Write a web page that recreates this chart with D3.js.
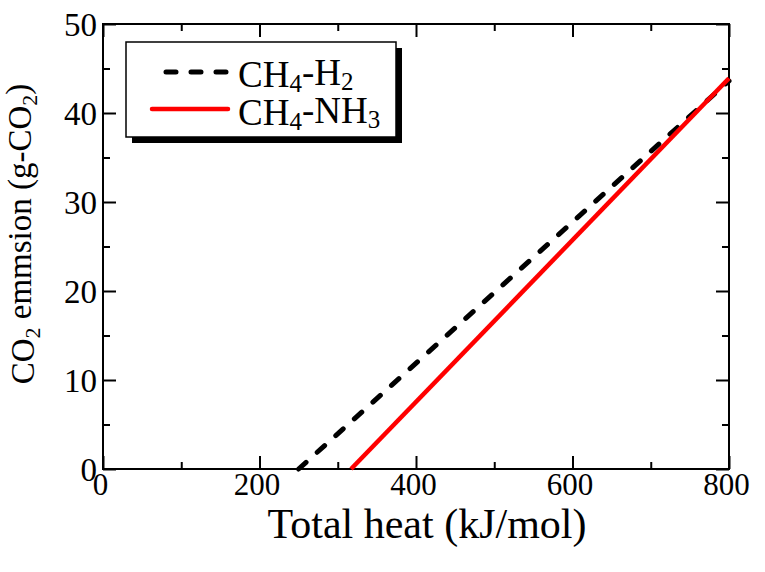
<!DOCTYPE html>
<html>
<head>
<meta charset="utf-8">
<script src="https://cdn.jsdelivr.net/npm/d3@7"></script>
<style>
  body { margin: 0; background: #fff; }
  svg text { font-family: "Liberation Serif", "Times New Roman", serif; fill: #000; }
</style>
</head>
<body>
<svg id="chart" width="765" height="572"></svg>
<script>
// data
const heatH2 = [250, 800];
const co2H2 = [0, 43.6];
const heatNH3 = [317, 800];
const co2NH3 = [0, 43.9];

const xTicks = [0, 200, 400, 600, 800];
const xMinor = [100, 300, 500, 700];
const yTicks = [0, 10, 20, 30, 40, 50];
const yMinor = [5, 15, 25, 35, 45];

const svg = d3.select("#chart");
const plotL = 103, plotR = 729, plotT = 24, plotB = 469;

let x = d3.scaleLinear().domain([0, 800]).range([plotL, plotR]);
let y = d3.scaleLinear().domain([0, 50]).range([plotB, plotT]);

// axes, ticks pointing in
function axisGroup(axis, tx, ty) {
    const g = svg.append("g").attr("transform", `translate(${tx},${ty})`).call(axis);
    g.select(".domain").remove();
    g.selectAll(".tick line").attr("stroke", "#000").attr("stroke-width", 2);
    return g;
}

const gx = axisGroup(d3.axisBottom(x).tickValues(xTicks).tickSizeInner(-13).tickSizeOuter(0), 0, plotB);
gx.selectAll("text").attr("y", 26).attr("dy", 0).attr("x", -3).style("font-size", "31px");
axisGroup(d3.axisBottom(x).tickValues(xMinor).tickSizeInner(-7).tickFormat(""), 0, plotB);
axisGroup(d3.axisTop(x).tickValues(xTicks).tickSizeInner(-13).tickFormat(""), 0, plotT);
axisGroup(d3.axisTop(x).tickValues(xMinor).tickSizeInner(-7).tickFormat(""), 0, plotT);

const gy = axisGroup(d3.axisLeft(y).tickValues(yTicks).tickSizeInner(-13).tickSizeOuter(0), plotL, 0);
gy.selectAll("text").attr("x", -6).attr("dy", "0.34em").style("font-size", "33px");
axisGroup(d3.axisLeft(y).tickValues(yMinor).tickSizeInner(-7).tickFormat(""), plotL, 0);
axisGroup(d3.axisRight(y).tickValues(yTicks).tickSizeInner(-13).tickFormat(""), plotR, 0);
axisGroup(d3.axisRight(y).tickValues(yMinor).tickSizeInner(-7).tickFormat(""), plotR, 0);

svg.append("rect")
    .attr("x", plotL).attr("y", plotT)
    .attr("width", plotR - plotL).attr("height", plotB - plotT)
    .attr("fill", "none").attr("stroke", "#000").attr("stroke-width", 2);

// series
const line = d3.line().x(d => x(d[0])).y(d => y(d[1]));

svg.append("path")
    .datum(d3.zip(heatH2, co2H2))
    .attr("d", line)
    .attr("fill", "none").attr("stroke", "#000").attr("stroke-width", 5)
    .attr("stroke-linecap", "round").attr("stroke-dasharray", "10,15");

svg.append("path")
    .datum(d3.zip(heatNH3, co2NH3))
    .attr("d", line)
    .attr("fill", "none").attr("stroke", "#ff0000").attr("stroke-width", 4.5);

// axis titles
svg.append("text")
    .attr("x", 427).attr("y", 538)
    .attr("text-anchor", "middle")
    .style("font-size", "42px")
    .text("Total heat (kJ/mol)");

const yt = svg.append("text")
    .attr("transform", "translate(34,234) rotate(-90)")
    .attr("text-anchor", "middle")
    .style("font-size", "33px");
yt.append("tspan").text("CO");
yt.append("tspan").attr("dy", "0.25em").style("font-size", "22px").text("2");
yt.append("tspan").attr("dy", "-0.25em").text(" emmsion (g-CO");
yt.append("tspan").attr("dy", "0.25em").style("font-size", "22px").text("2");
yt.append("tspan").attr("dy", "-0.25em").text(")");

// legend
svg.append("rect").attr("x", 132).attr("y", 48).attr("width", 270).attr("height", 95).attr("fill", "#000");
svg.append("rect").attr("x", 126).attr("y", 42).attr("width", 270).attr("height", 95)
    .attr("fill", "#fff").attr("stroke", "#000").attr("stroke-width", 1.5);

svg.append("line")
    .attr("x1", 226).attr("y1", 72).attr("x2", 152).attr("y2", 72)
    .attr("stroke", "#000").attr("stroke-width", 5)
    .attr("stroke-linecap", "round").attr("stroke-dasharray", "10,15");
svg.append("line")
    .attr("x1", 152).attr("y1", 109).attr("x2", 228).attr("y2", 109)
    .attr("stroke", "#ff0000").attr("stroke-width", 4.5).attr("stroke-linecap", "round");

function legendLabel(yPos, parts) {
    const t = svg.append("text").attr("x", 238).attr("y", yPos).style("font-size", "37px");
    parts.forEach(p => {
        if (p.sub) t.append("tspan").attr("dy", "0.2em").style("font-size", "25px").text(p.s);
        else t.append("tspan").attr("dy", p.after ? "-0.2em" : 0).text(p.s);
    });
}
legendLabel(87, [{s: "CH"}, {s: "4", sub: true}, {s: "-H", after: true}, {s: "2", sub: true}]);
legendLabel(125, [{s: "CH"}, {s: "4", sub: true}, {s: "-NH", after: true}, {s: "3", sub: true}]);
</script>
</body>
</html>
